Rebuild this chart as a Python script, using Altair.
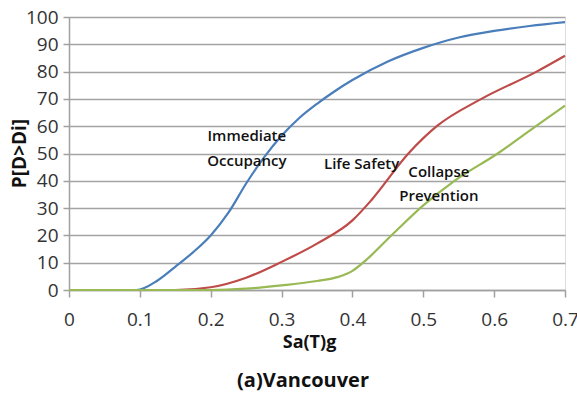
import altair as alt
import pandas as pd

# ---- data ----
io_x = [0, 0.05, 0.095, 0.125, 0.15, 0.175, 0.2, 0.225, 0.25, 0.275, 0.3, 0.325, 0.35,
        0.375, 0.4, 0.45, 0.5, 0.55, 0.6, 0.65, 0.7]
io_y = [0, 0, 0, 3.5, 8.5, 13.8, 20, 28.3, 39, 48.5, 56.5, 63, 68.2,
        72.8, 76.9, 83.7, 88.7, 92.5, 94.9, 96.7, 98.1]

ls_x = [0, 0.1, 0.15, 0.2, 0.25, 0.3, 0.35, 0.4, 0.427, 0.479, 0.519, 0.582, 0.66, 0.7]
ls_y = [0, 0, 0, 1, 4.5, 10.3, 17, 25.5, 33, 50, 60, 70, 80, 85.8]

cp_x = [0, 0.1, 0.2, 0.25, 0.3, 0.35, 0.38, 0.4, 0.415, 0.457, 0.5, 0.544, 0.605, 0.659, 0.7]
cp_y = [0, 0, 0, 0.5, 1.7, 3.3, 4.8, 7, 10, 20.5, 31, 40, 50, 60, 67.5]

series_names = ["Immediate Occupancy", "Life Safety", "Collapse Prevention"]
series_colors = ["#4A7EBB", "#BE4B48", "#98B954"]

x_ticks = [0, 0.1, 0.2, 0.3, 0.4, 0.5, 0.6, 0.7]
y_ticks = [0, 10, 20, 30, 40, 50, 60, 70, 80, 90, 100]

label_text = ["Immediate", "Occupancy", "Life Safety", "Collapse", "Prevention"]
label_x = [0.251, 0.251, 0.413, 0.522, 0.522]
label_y = [56.5, 47.4, 46.3, 43.3, 34.5]

rows = []
for name, xs, ys in zip(series_names, [io_x, ls_x, cp_x], [io_y, ls_y, cp_y]):
    for i, (a, b) in enumerate(zip(xs, ys)):
        rows.append({"series": name, "x": a, "y": b, "i": i})
df = pd.DataFrame(rows)
labels = pd.DataFrame({"t": label_text, "x": label_x, "y": label_y})

FONT = "Open Sans"

x_enc = alt.X("x:Q", scale=alt.Scale(domain=[0, 0.7], nice=False),
              axis=alt.Axis(values=x_ticks, format="~g", title="Sa(T)g",
                            grid=False, ticks=True, tickSize=7, tickColor="#a0a0a0",
                            tickWidth=1.5, domainColor="#a0a0a0", domainWidth=1.5,
                            labelFont="Liberation Sans Narrow, Open Sans", labelFontSize=19,
                            labelColor="#333333", labelPadding=13, labelFlush=False,
                            labelOverlap=False,
                            titleFont=FONT, titleFontSize=18, titleFontWeight="bold",
                            titleColor="#111111", titlePadding=4, titleX=240))
y_enc = alt.Y("y:Q", scale=alt.Scale(domain=[0, 100], nice=False),
              axis=alt.Axis(values=y_ticks, title="P[D>Di]", grid=True,
                            gridColor="#a3a3a3", gridWidth=1.5,
                            ticks=True, tickSize=6, tickColor="#a0a0a0", tickWidth=1.5,
                            domainColor="#a0a0a0", domainWidth=1.5,
                            labelFont=FONT, labelFontSize=19, labelColor="#333333",
                            labelPadding=5, labelOverlap=False,
                            titleFont=FONT, titleFontSize=19, titleFontWeight="bold",
                            titleColor="#111111", titleX=-50, titleY=136,
                            titleAlign="center", titleBaseline="middle", titleAngle=270))

lines = alt.Chart(df).mark_line(strokeWidth=2.2, interpolate="monotone").encode(
    x=x_enc, y=y_enc,
    color=alt.Color("series:N", scale=alt.Scale(domain=series_names, range=series_colors),
                    legend=None),
    order="i:Q",
)

texts = alt.Chart(labels).mark_text(font=FONT, fontSize=15, fontWeight=600,
                                    color="#111111", align="center",
                                    baseline="middle").encode(
    x=x_enc, y=y_enc, text="t:N")

chart = alt.layer(lines, texts).properties(
    width=496, height=273,
    title=alt.TitleParams("(a)Vancouver", orient="bottom", font=FONT, fontSize=20,
                          fontWeight="bold", color="#111111", offset=20, anchor="middle",
                          dx=-14),
    autosize=alt.AutoSizeParams(type="none"),
    padding={"left": 69, "top": 17, "right": 12, "bottom": 107},
).configure_view(stroke=None).configure(background="white")

chart.save("out.html", embed_options={"renderer": "svg", "actions": False})
